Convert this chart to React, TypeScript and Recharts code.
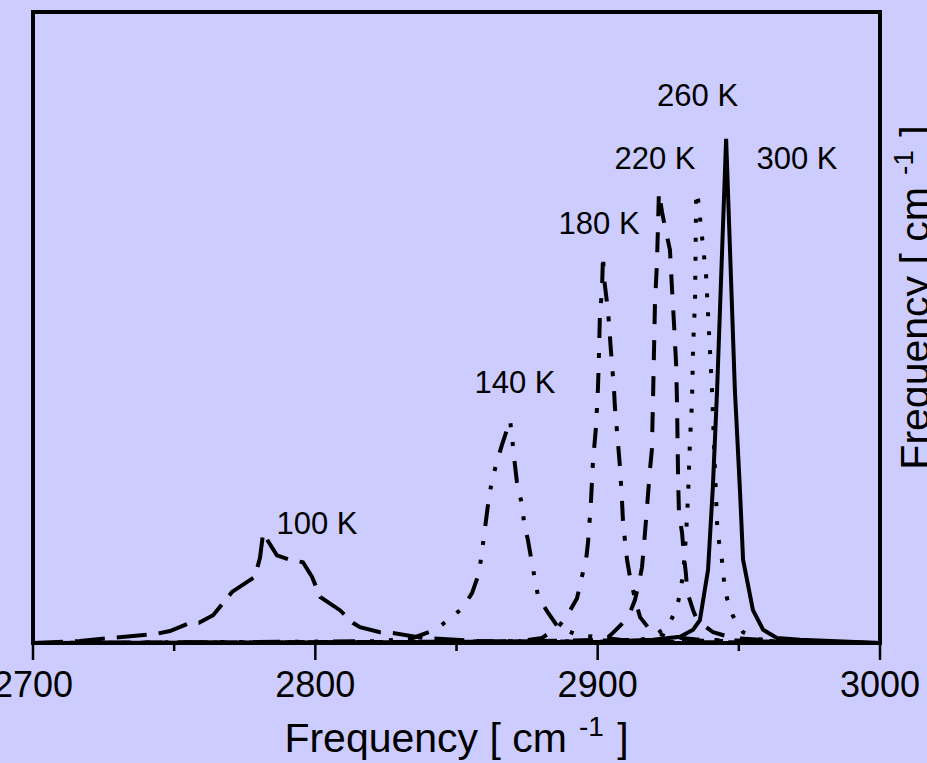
import React from "react";
import {
  LineChart,
  Line,
  XAxis,
  YAxis,
  ReferenceArea,
  ReferenceDot,
  Label,
} from "recharts";

// ─── Data (frequency in cm-1, intensity in arbitrary units) ───

const freq100K = [2700, 2716.6, 2727.3, 2743.2, 2748.5, 2756.3, 2758.8, 2763.8, 2770.5, 2778.6, 2780.4, 2781.5, 2786.4, 2791.0, 2795.6, 2798.8, 2801.7, 2808.7, 2813.3, 2815.8, 2822.9, 2827.5, 2838.1, 2858.3, 2900.8, 3000];
const int100K = [0, 0.3, 0.8, 1.4, 1.9, 3.3, 3.2, 4.4, 8.1, 10.5, 13.5, 17.4, 13.9, 13.2, 12.8, 10.5, 7.3, 5.2, 3.2, 2.5, 1.7, 1.6, 0.8, 0.3, 0.2, 0];

const freq140K = [2700, 2794.6, 2822.9, 2834.6, 2842.4, 2847.0, 2852.0, 2855.5, 2858.0, 2859.7, 2861.5, 2862.6, 2864.3, 2866.1, 2869.0, 2870.0, 2870.7, 2871.4, 2873.2, 2873.9, 2875.3, 2877.8, 2878.9, 2882.4, 2886.0, 2892.7, 2907.9, 3000];
const int140K = [0, 0.2, 0.3, 0.8, 2.1, 3.6, 5.5, 7.9, 11.1, 16.8, 23.1, 25.8, 28.7, 31.4, 35.3, 31.2, 28.2, 25.5, 21.9, 19.2, 16.3, 10.0, 7.4, 4.8, 2.5, 1.3, 0.5, 0];

const freq180K = [2700, 2847.7, 2872.5, 2880.3, 2886.0, 2889.8, 2892.7, 2894.4, 2895.9, 2896.6, 2897.6, 2898.3, 2899.4, 2900.1, 2900.5, 2900.8, 2901.5, 2901.9, 2902.2, 2903.7, 2904.7, 2905.8, 2906.1, 2907.2, 2907.9, 2908.6, 2909.0, 2910.4, 2911.5, 2913.2, 2915.0, 2918.5, 2923.8, 2936.2, 3000];
const int180K = [0, 0.2, 0.3, 0.8, 2.5, 4.8, 7.1, 10.5, 13.2, 16.0, 22.2, 28.5, 34.2, 40.3, 46.4, 52.3, 55.5, 61.5, 58.0, 52.5, 46.3, 40.1, 37.4, 31.7, 27.9, 22.7, 19.0, 13.2, 10.3, 7.1, 4.1, 2.1, 1.1, 0.5, 0];

const freq220K = [2700, 2865.3, 2902.6, 2905.4, 2910.7, 2913.2, 2914.6, 2915.7, 2916.4, 2917.5, 2918.5, 2919.2, 2919.6, 2920.3, 2921.0, 2921.7, 2922.8, 2923.9, 2925.6, 2926.3, 2927.1, 2927.8, 2928.1, 2928.5, 2928.8, 2929.9, 2930.6, 2931.3, 2931.7, 2933.8, 2935.2, 2940.9, 2947.9, 2964.6, 3000];
const int220K = [0, 0.2, 0.5, 1.6, 4.0, 6.8, 9.5, 12.0, 15.5, 21.6, 27.4, 30.6, 38.5, 53.9, 60.2, 71.5, 68.3, 65.8, 62.3, 56.4, 50.1, 44.1, 38.2, 25.8, 20.6, 17.4, 13.6, 10.8, 8.1, 5.2, 3.6, 1.7, 0.8, 0.3, 0];

const freq260K = [2700, 2883.1, 2915.0, 2919.2, 2924.6, 2927.8, 2929.2, 2930.3, 2931.3, 2932.0, 2932.7, 2933.4, 2933.8, 2934.5, 2934.9, 2935.6, 2938.4, 2940.5, 2941.5, 2942.3, 2943.0, 2944.0, 2944.7, 2945.8, 2947.9, 2951.5, 2956.8, 2971.7, 3000];
const int260K = [0, 0.2, 0.5, 1.0, 2.5, 5.2, 7.9, 11.1, 17.1, 23.1, 32.2, 38.0, 46.9, 54.4, 71.5, 70.2, 58.2, 40.1, 27.9, 19.0, 16.0, 13.2, 10.1, 7.1, 4.3, 1.7, 0.6, 0.3, 0];

const freq300K = [2700, 2900.8, 2919.6, 2929.2, 2933.8, 2936.2, 2939.1, 2940.8, 2942.3, 2945.5, 2948.6, 2950.4, 2951.5, 2955.0, 2958.6, 2963.5, 2971.7, 3000];
const int300K = [0, 0.2, 0.5, 1.0, 2.1, 3.6, 11.6, 24.7, 40.1, 79.9, 40.1, 24.2, 13.2, 5.2, 2.1, 0.8, 0.5, 0];

const xTicks = [2700, 2750, 2800, 2850, 2900, 2950, 3000];

// temperature labels, anchored in data coordinates (text centre / baseline)
const labelText = ["100 K", "140 K", "180 K", "220 K", "260 K", "300 K"];
const labelFreq = [2800.6, 2870.7, 2900.5, 2920.3, 2935.4, 2970.6];
const labelInt = [17.3, 39.6, 64.8, 75.1, 85.1, 75.1];

// ─── Styling ───────────────────────────────────────────────────────────────

const BG = "#ccccff";
const FONT = "'Liberation Sans', Arial, Helvetica, sans-serif";

const toSeries = (f: number[], v: number[]) => f.map((x, i) => ({ f: x, v: v[i] }));

const curves = [
  { name: "100 K", data: toSeries(freq100K, int100K), dash: "30 12" },
  { name: "140 K", data: toSeries(freq140K, int140K), dash: "22 15 4 15 4 15" },
  { name: "180 K", data: toSeries(freq180K, int180K), dash: "20 15 5 15" },
  { name: "220 K", data: toSeries(freq220K, int220K), dash: "20 16" },
  { name: "260 K", data: toSeries(freq260K, int260K), dash: "4 15" },
  { name: "300 K", data: toSeries(freq300K, int300K), dash: undefined },
];

function XTick(props: any) {
  const { x, y, payload } = props;
  const major = payload.value % 100 === 0;
  return (
    <g>
      <line x1={x} x2={x} y1={y} y2={y + (major ? 17 : 8)} stroke="#000" strokeWidth={2.5} />
      {major && (
        <text x={x} y={y + 54} textAnchor="middle" fontSize={36} fontFamily={FONT} fill="#000">
          {payload.value}
        </text>
      )}
    </g>
  );
}

function BottomTitle(props: any) {
  const vb = props.viewBox;
  return (
    <text x={vb.x + vb.width / 2} y={vb.y + 109} textAnchor="middle" fontSize={41} fontFamily={FONT} fill="#000">
      Frequency [ cm
      <tspan dx={12} dy={-16} fontSize={28}>-1</tspan>
      <tspan dx={2} dy={16}> ]</tspan>
    </text>
  );
}

function RightTitle(props: any) {
  const vb = props.viewBox;
  const x = vb.x + 49;
  const y = vb.y + vb.height / 2 - 30;
  return (
    <text x={x} y={y} transform={`rotate(-90 ${x} ${y})`} textAnchor="middle" fontSize={41} fontFamily={FONT} fill="#000">
      Frequency [ cm
      <tspan dx={12} dy={-16} fontSize={28}>-1</tspan>
      <tspan dx={2} dy={16}> ]</tspan>
    </text>
  );
}

const tempLabel = (text: string) => (props: any) => {
  const vb = props.viewBox;
  return (
    <text x={vb.x} y={vb.y} textAnchor="middle" fontSize={31} fontFamily={FONT} fill="#000">
      {text}
    </text>
  );
};

export default function App() {
  return (
    <div style={{ position: "absolute", left: 0, top: 0, width: 927, height: 763, background: BG, overflow: "hidden" }}>
      <LineChart width={927} height={763} margin={{ top: 12, right: 0, bottom: 0, left: 33 }}>
        <XAxis
          dataKey="f"
          type="number"
          domain={[2700, 3000]}
          ticks={xTicks}
          interval={0}
          allowDataOverflow
          axisLine={false}
          tickLine={false}
          tickSize={0}
          tickMargin={0}
          height={120}
          tick={<XTick />}
        >
          <Label content={<BottomTitle />} />
        </XAxis>
        <YAxis
          orientation="right"
          type="number"
          domain={[0, 100]}
          width={47}
          tick={false}
          axisLine={false}
          tickLine={false}
        >
          <Label content={<RightTitle />} />
        </YAxis>

        <ReferenceArea x1={2700} x2={3000} y1={0} y2={100} fill="none" stroke="#000" strokeWidth={4} ifOverflow="visible" />

        {curves.map((c) => (
          <Line
            key={c.name}
            data={c.data}
            dataKey="v"
            type="linear"
            stroke="#000"
            strokeWidth={4}
            strokeDasharray={c.dash}
            dot={false}
            activeDot={false}
            isAnimationActive={false}
          />
        ))}

        {labelText.map((t, i) => (
          <ReferenceDot
            key={t}
            x={labelFreq[i]}
            y={labelInt[i]}
            r={0}
            fill="none"
            stroke="none"
            ifOverflow="visible"
            label={tempLabel(t)}
          />
        ))}
      </LineChart>
    </div>
  );
}
